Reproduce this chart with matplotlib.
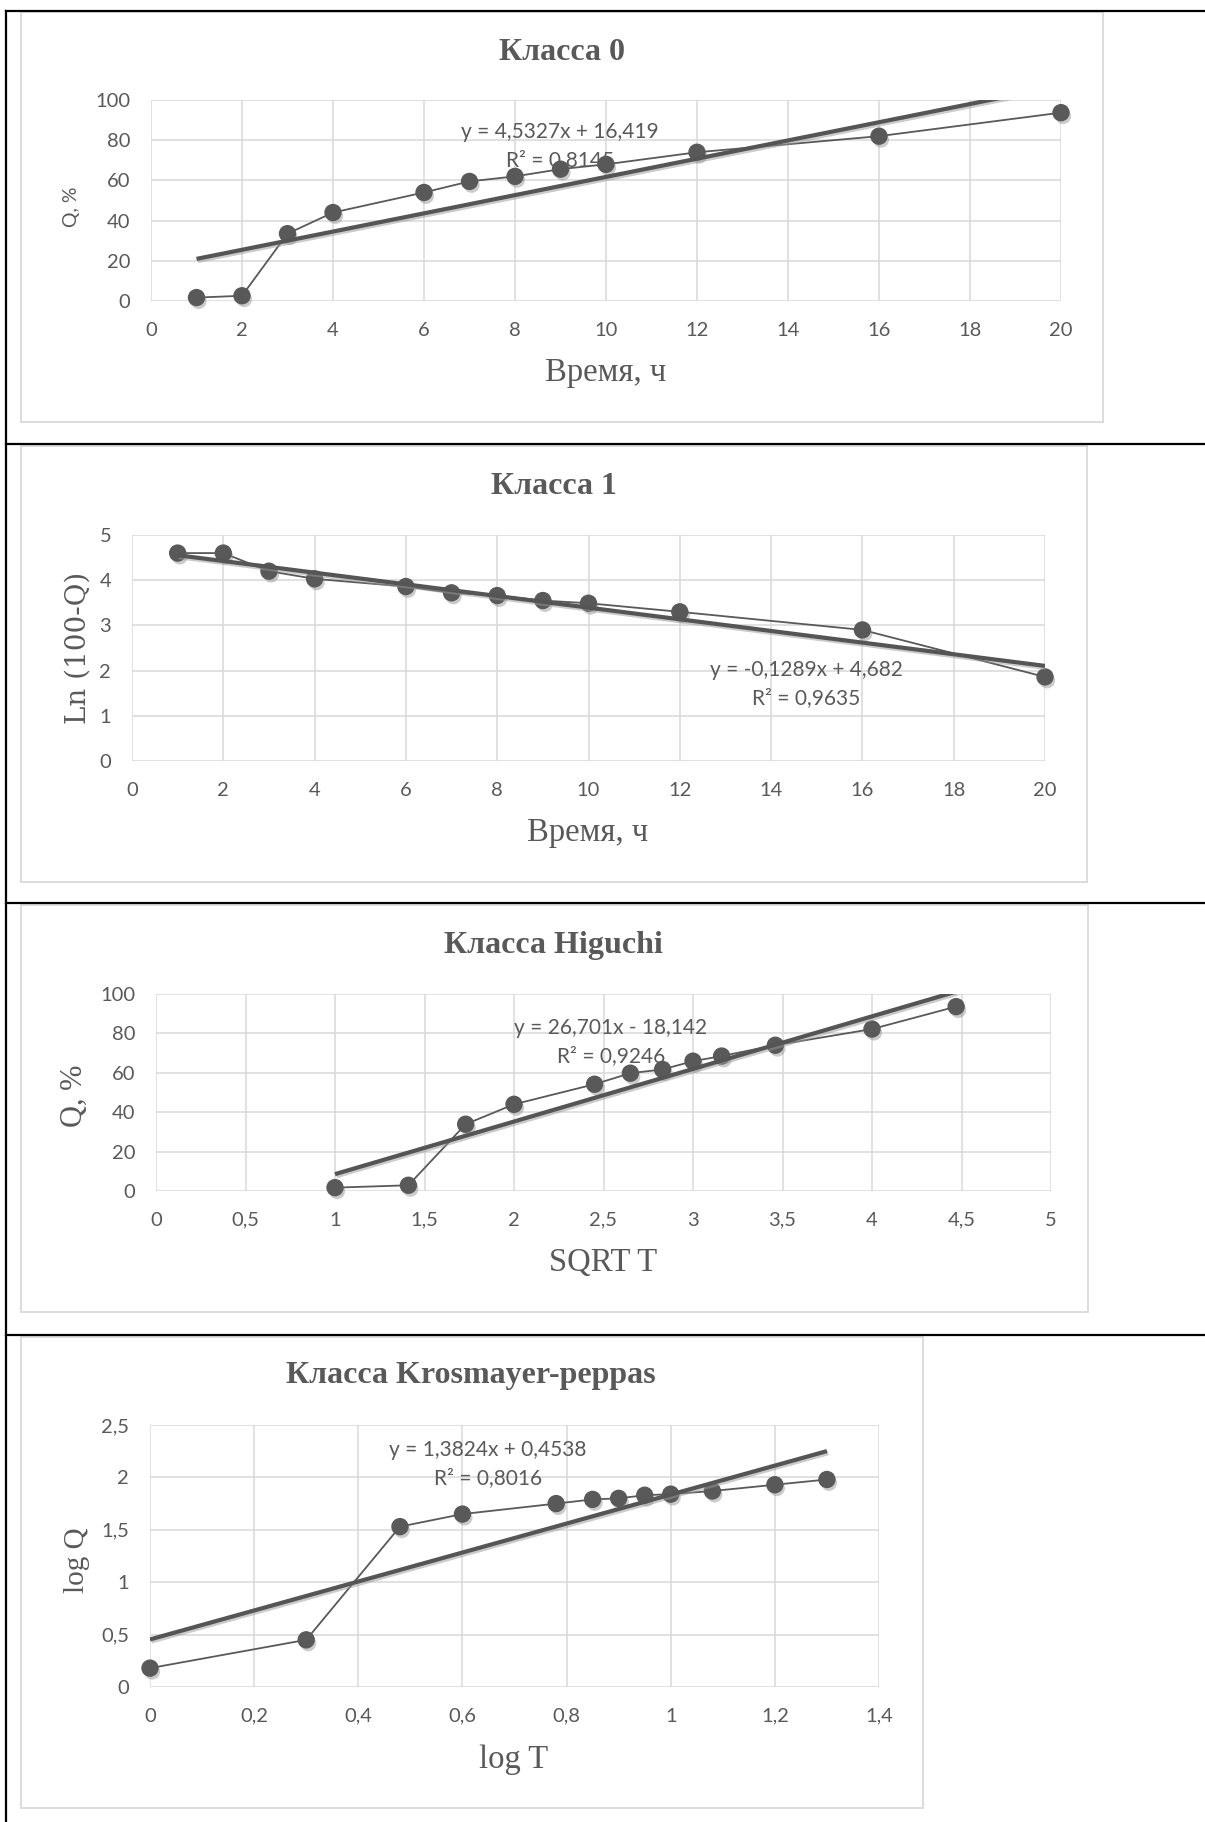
import matplotlib
matplotlib.use('Agg')
import matplotlib.pyplot as plt
import matplotlib.patheffects as pe
from matplotlib.lines import Line2D
from matplotlib.patches import Rectangle
from matplotlib.ticker import FuncFormatter, MultipleLocator

W, H = 1205, 1822

# время отбора проб, ч
time_h = [1, 2, 3, 4, 6, 7, 8, 9, 10, 12, 16, 20]
# высвобождение, %
q_pct = [1.7, 2.6, 33.5, 44, 54, 59.5, 62, 65.6, 68, 74, 82, 93.7]
# ln(100 - Q)
ln_rest = [4.6, 4.6, 4.2, 4.03, 3.86, 3.72, 3.66, 3.55, 3.49, 3.3, 2.9, 1.86]
# корень из времени
sqrt_t = [1, 1.41, 1.73, 2, 2.45, 2.65, 2.83, 3, 3.16, 3.46, 4, 4.47]
q_higuchi = [1.7, 2.9, 33.9, 44, 54.2, 59.8, 61.7, 65.9, 68.5, 74, 82.2, 93.6]
# логарифмы
log_t = [0, 0.3, 0.48, 0.6, 0.78, 0.85, 0.9, 0.95, 1.0, 1.08, 1.2, 1.3]
log_q = [0.18, 0.45, 1.53, 1.65, 1.75, 1.79, 1.80, 1.83, 1.84, 1.87, 1.93, 1.98]

# линии тренда: наклон, свободный член, R²
trend_0 = (4.5327, 16.419, '0,8145')
trend_1 = (-0.1289, 4.682, '0,9635')
trend_hig = (26.701, -18.142, '0,9246')
trend_kp = (1.3824, 0.4538, '0,8016')

GRAY = '#595959'
GRID = '#d9d9d9'
SERIF = ['Liberation Serif', 'DejaVu Serif']
SANS = ['Lato', 'DejaVu Sans']


def fx(x):
    return x / W


def fy(y):
    return 1 - y / H


def comma(v, pos=None):
    return f'{v:g}'.replace('.', ',')


def eq_text(slope, icpt):
    sign = '+' if icpt >= 0 else '-'
    return f'y = {comma(round(slope, 4))}x {sign} {comma(round(abs(icpt), 4))}'


def make_panel(fig, box, plot, x, y, trend, xlim, xstep, ylim, ystep,
               title, xlabel, ylabel, ylabel_kw, xlabel_pos, ylabel_pos,
               title_pos, eq_pos):
    # рамка диаграммы
    bx0, by0, bx1, by1 = box
    fig.add_artist(Rectangle((fx(bx0), fy(by1)), fx(bx1 - bx0), (by1 - by0) / H,
                             transform=fig.transFigure, fill=False,
                             edgecolor=GRID, lw=1.3))
    px0, py0, px1, py1 = plot
    ax = fig.add_axes([fx(px0), fy(py1), fx(px1 - px0), (py1 - py0) / H])
    ax.set_xlim(*xlim)
    ax.set_ylim(*ylim)
    ax.xaxis.set_major_locator(MultipleLocator(xstep))
    ax.yaxis.set_major_locator(MultipleLocator(ystep))
    ax.xaxis.set_major_formatter(FuncFormatter(comma))
    ax.yaxis.set_major_formatter(FuncFormatter(comma))
    for s in ax.spines.values():
        s.set_visible(False)
    ax.grid(True, color=GRID, lw=1.1)
    ax.set_axisbelow(True)
    ax.tick_params(length=0, labelsize=14.5, labelcolor=GRAY)
    ax.tick_params(axis='x', pad=15)
    ax.tick_params(axis='y', pad=15)
    for lab in ax.get_xticklabels() + ax.get_yticklabels():
        lab.set_family(SANS)

    ax.plot(x, y, '-', color=GRAY, lw=1.3, clip_on=False, zorder=3)
    ax.plot(x, y, 'o', ls='none', color=GRAY, ms=11.5, mec=GRAY, clip_on=False,
            zorder=4,
            path_effects=[pe.SimplePatchShadow(offset=(1.5, -2.5),
                                               shadow_rgbFace='#8c8c8c', alpha=0.45),
                          pe.Normal()])

    slope, icpt, r2 = trend
    tx = [min(x), max(x)]
    ty = [slope * v + icpt for v in tx]
    ax.plot(tx, ty, '-', color='#555555', lw=3.0, solid_capstyle='butt', zorder=5,
            path_effects=[pe.SimpleLineShadow(offset=(1, -1.5), shadow_color='#999999',
                                              alpha=0.5),
                          pe.Normal()])

    ex, ey1, ey2 = eq_pos
    fig.text(fx(ex), fy(ey1), eq_text(slope, icpt), ha='center', va='center',
             fontsize=15, color=GRAY, family=SANS, zorder=6)
    fig.text(fx(ex), fy(ey2), f'R² = {r2}', ha='center', va='center',
             fontsize=15, color=GRAY, family=SANS, zorder=6)

    fig.text(fx(title_pos[0]), fy(title_pos[1]), title, ha='center', va='center',
             fontsize=23, fontweight='bold', color=GRAY, family=SERIF)
    fig.text(fx(xlabel_pos[0]), fy(xlabel_pos[1]), xlabel, ha='center', va='center',
             fontsize=23.5, color=GRAY, family=SERIF)
    fig.text(fx(ylabel_pos[0]), fy(ylabel_pos[1]), ylabel, ha='center', va='center',
             rotation=90, color=GRAY, **ylabel_kw)
    return ax


fig = plt.figure(figsize=(W / 100, H / 100), dpi=100)

# линии таблицы
for yy in [11, 444, 903, 1335]:
    fig.add_artist(Line2D([fx(6), 1], [fy(yy), fy(yy)], transform=fig.transFigure,
                          color='black', lw=1.6))
fig.add_artist(Line2D([fx(6), fx(6)], [fy(11), 0], transform=fig.transFigure,
                      color='black', lw=1.6))

make_panel(fig, (21, 12, 1103, 422), (151, 100, 1061, 301), time_h, q_pct, trend_0,
           (0, 20), 2, (0, 100), 20, 'Класса 0', 'Время, ч', 'Q, %',
           dict(fontsize=14, family=SANS), (606, 373), (72, 207), (562, 52),
           (560, 132, 160))

make_panel(fig, (21, 446, 1087, 882), (132, 535, 1045, 761), time_h, ln_rest, trend_1,
           (0, 20), 2, (0, 5), 1, 'Класса 1', 'Время, ч', 'Ln (100-Q)',
           dict(fontsize=20, family=['DejaVu Serif']), (588, 833), (78, 648), (554, 487),
           (806, 670, 698))

make_panel(fig, (21, 905, 1088, 1312), (156, 994, 1051, 1191), sqrt_t, q_higuchi, trend_hig,
           (0, 5), 0.5, (0, 100), 20, 'Класса Higuchi', 'SQRT T', 'Q, %',
           dict(fontsize=22, family=SERIF), (603, 1263), (74, 1096), (553, 945),
           (611, 1028, 1056))

make_panel(fig, (21, 1337, 923, 1808), (150, 1425, 879, 1687), log_t, log_q, trend_kp,
           (0, 1.4), 0.2, (0, 2.5), 0.5, 'Класса Krosmayer-peppas', 'log T', 'log Q',
           dict(fontsize=21, family=SERIF), (514, 1760), (77, 1560), (471, 1375),
           (488, 1450, 1478))

fig.savefig('out.png', dpi=100)
